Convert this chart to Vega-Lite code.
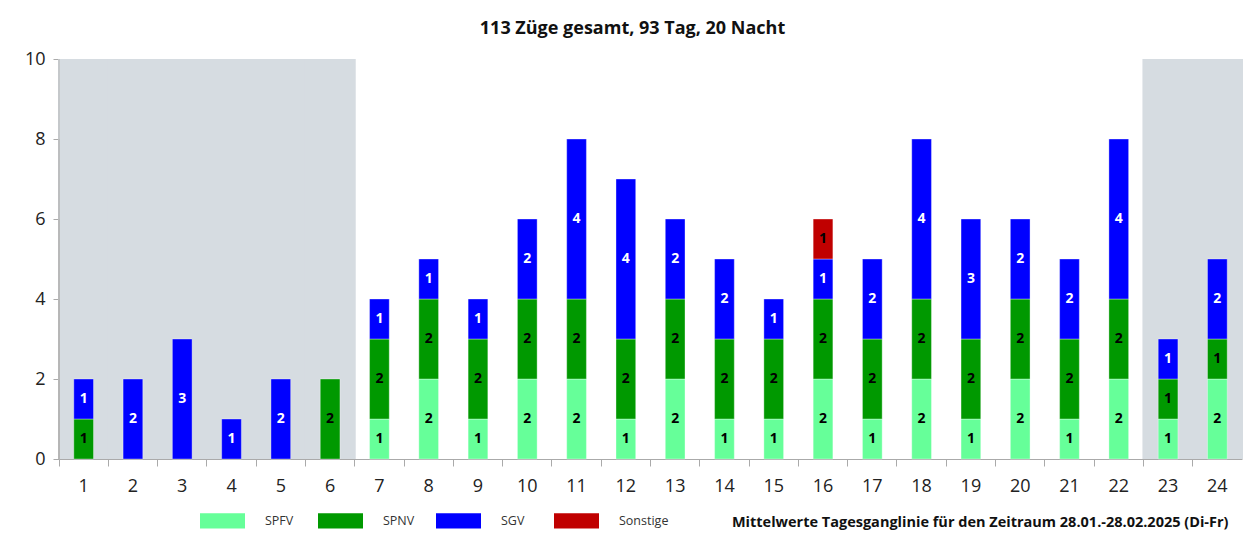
{
  "$schema": "https://vega.github.io/schema/vega-lite/v6.json",
  "autosize": "none",
  "width": 1183,
  "height": 400,
  "padding": {"left": 59, "top": 59, "right": 13, "bottom": 77},
  "background": "white",
  "title": {
    "text": "113 Züge gesamt, 93 Tag, 20 Nacht",
    "fontSize": 18,
    "fontWeight": "bold",
    "font": "Open Sans",
    "color": "#111",
    "anchor": "middle",
    "dx": -18,
    "offset": 12
  },
  "datasets": {
    "zuege": [
      {"h": 1, "cat": "SPNV", "ord": 2, "n": 1},
      {"h": 1, "cat": "SGV", "ord": 3, "n": 1},
      {"h": 2, "cat": "SGV", "ord": 3, "n": 2},
      {"h": 3, "cat": "SGV", "ord": 3, "n": 3},
      {"h": 4, "cat": "SGV", "ord": 3, "n": 1},
      {"h": 5, "cat": "SGV", "ord": 3, "n": 2},
      {"h": 6, "cat": "SPNV", "ord": 2, "n": 2},
      {"h": 7, "cat": "SPFV", "ord": 1, "n": 1},
      {"h": 7, "cat": "SPNV", "ord": 2, "n": 2},
      {"h": 7, "cat": "SGV", "ord": 3, "n": 1},
      {"h": 8, "cat": "SPFV", "ord": 1, "n": 2},
      {"h": 8, "cat": "SPNV", "ord": 2, "n": 2},
      {"h": 8, "cat": "SGV", "ord": 3, "n": 1},
      {"h": 9, "cat": "SPFV", "ord": 1, "n": 1},
      {"h": 9, "cat": "SPNV", "ord": 2, "n": 2},
      {"h": 9, "cat": "SGV", "ord": 3, "n": 1},
      {"h": 10, "cat": "SPFV", "ord": 1, "n": 2},
      {"h": 10, "cat": "SPNV", "ord": 2, "n": 2},
      {"h": 10, "cat": "SGV", "ord": 3, "n": 2},
      {"h": 11, "cat": "SPFV", "ord": 1, "n": 2},
      {"h": 11, "cat": "SPNV", "ord": 2, "n": 2},
      {"h": 11, "cat": "SGV", "ord": 3, "n": 4},
      {"h": 12, "cat": "SPFV", "ord": 1, "n": 1},
      {"h": 12, "cat": "SPNV", "ord": 2, "n": 2},
      {"h": 12, "cat": "SGV", "ord": 3, "n": 4},
      {"h": 13, "cat": "SPFV", "ord": 1, "n": 2},
      {"h": 13, "cat": "SPNV", "ord": 2, "n": 2},
      {"h": 13, "cat": "SGV", "ord": 3, "n": 2},
      {"h": 14, "cat": "SPFV", "ord": 1, "n": 1},
      {"h": 14, "cat": "SPNV", "ord": 2, "n": 2},
      {"h": 14, "cat": "SGV", "ord": 3, "n": 2},
      {"h": 15, "cat": "SPFV", "ord": 1, "n": 1},
      {"h": 15, "cat": "SPNV", "ord": 2, "n": 2},
      {"h": 15, "cat": "SGV", "ord": 3, "n": 1},
      {"h": 16, "cat": "SPFV", "ord": 1, "n": 2},
      {"h": 16, "cat": "SPNV", "ord": 2, "n": 2},
      {"h": 16, "cat": "SGV", "ord": 3, "n": 1},
      {"h": 16, "cat": "Sonstige", "ord": 4, "n": 1},
      {"h": 17, "cat": "SPFV", "ord": 1, "n": 1},
      {"h": 17, "cat": "SPNV", "ord": 2, "n": 2},
      {"h": 17, "cat": "SGV", "ord": 3, "n": 2},
      {"h": 18, "cat": "SPFV", "ord": 1, "n": 2},
      {"h": 18, "cat": "SPNV", "ord": 2, "n": 2},
      {"h": 18, "cat": "SGV", "ord": 3, "n": 4},
      {"h": 19, "cat": "SPFV", "ord": 1, "n": 1},
      {"h": 19, "cat": "SPNV", "ord": 2, "n": 2},
      {"h": 19, "cat": "SGV", "ord": 3, "n": 3},
      {"h": 20, "cat": "SPFV", "ord": 1, "n": 2},
      {"h": 20, "cat": "SPNV", "ord": 2, "n": 2},
      {"h": 20, "cat": "SGV", "ord": 3, "n": 2},
      {"h": 21, "cat": "SPFV", "ord": 1, "n": 1},
      {"h": 21, "cat": "SPNV", "ord": 2, "n": 2},
      {"h": 21, "cat": "SGV", "ord": 3, "n": 2},
      {"h": 22, "cat": "SPFV", "ord": 1, "n": 2},
      {"h": 22, "cat": "SPNV", "ord": 2, "n": 2},
      {"h": 22, "cat": "SGV", "ord": 3, "n": 4},
      {"h": 23, "cat": "SPFV", "ord": 1, "n": 1},
      {"h": 23, "cat": "SPNV", "ord": 2, "n": 1},
      {"h": 23, "cat": "SGV", "ord": 3, "n": 1},
      {"h": 24, "cat": "SPFV", "ord": 1, "n": 2},
      {"h": 24, "cat": "SPNV", "ord": 2, "n": 1},
      {"h": 24, "cat": "SGV", "ord": 3, "n": 2}
    ],
    "nacht": [
      {"h": 1}, {"h": 2}, {"h": 3}, {"h": 4}, {"h": 5}, {"h": 6}, {"h": 23}, {"h": 24}
    ],
    "raster": [
      {"v": 2}, {"v": 4}, {"v": 6}, {"v": 8}, {"v": 10}
    ]
  },
  "config": {
    "font": "Open Sans",
    "view": {"stroke": null}
  },
  "encoding": {
    "x": {
      "field": "h",
      "type": "ordinal",
      "scale": {"domain": [1,2,3,4,5,6,7,8,9,10,11,12,13,14,15,16,17,18,19,20,21,22,23,24], "paddingInner": 0, "paddingOuter": 0},
      "axis": {
        "title": "Mittelwerte Tagesganglinie  für den Zeitraum 28.01.-28.02.2025 (Di-Fr)",
        "titleFontSize": 14.5,
        "titleFontWeight": "bold",
        "titleColor": "#111",
        "titleX": 1169,
        "titleY": 67,
        "titleAlign": "right",
        "titleAnchor": null,
        "titleBaseline": "alphabetic",
        "labelAngle": 0,
        "labelFontSize": 18,
        "labelColor": "#222",
        "labelPadding": 11,
        "bandPosition": 0,
        "tickSize": 7,
        "tickColor": "#aaaaaa",
        "domainColor": "#aaaaaa",
        "grid": false
      }
    }
  },
  "layer": [
    {
      "data": {"name": "nacht"},
      "mark": {"type": "bar", "color": "#d6dce1", "width": {"band": 1.04}},
      "encoding": {
        "y": {"datum": 0, "type": "quantitative"},
        "y2": {"datum": 10}
      }
    },
    {
      "data": {"name": "raster"},
      "mark": {"type": "rule", "color": "#b4b4b4", "strokeWidth": 1},
      "encoding": {
        "y": {"field": "v", "type": "quantitative"}
      }
    },
    {
      "data": {"name": "zuege"},
      "transform": [
        {"stack": "n", "groupby": ["h"], "sort": [{"field": "ord", "order": "ascending"}], "as": ["y0", "y1"]},
        {"calculate": "(datum.y0 + datum.y1) / 2", "as": "ym"}
      ],
      "layer": [
        {
          "mark": {"type": "bar", "width": {"band": 0.4}, "stroke": "white", "strokeOpacity": 0.35, "strokeWidth": 1},
          "encoding": {
            "y": {
              "field": "y0",
              "type": "quantitative",
              "scale": {"domain": [0, 10]},
              "axis": {
                "title": null,
                "values": [0, 2, 4, 6, 8, 10],
                "labelFontSize": 18,
                "labelColor": "#222",
                "labelPadding": 8,
                "tickSize": 6,
                "tickColor": "#aaaaaa",
                "domainColor": "#aaaaaa",
                "gridColor": "#b4b4b4",
                "gridWidth": 1
              }
            },
            "y2": {"field": "y1"},
            "color": {
              "field": "cat",
              "type": "nominal",
              "scale": {
                "domain": ["SPFV", "SPNV", "SGV", "Sonstige"],
                "range": ["#66ff99", "#009900", "#0000ff", "#c00000"]
              },
              "legend": {
                "title": null,
                "orient": "none",
                "direction": "horizontal",
                "legendX": 141,
                "legendY": 439,
                "symbolType": "M-1,-0.34H1V0.34H-1Z",
                "symbolSize": 2025,
                "symbolStrokeWidth": 0,
                "symbolOpacity": 1,
                "labelFontSize": 12.5,
                "labelColor": "#333",
                "labelOffset": 20,
                "gridAlign": "all",
                "columnPadding": 3,
                "labelLimit": 200
              }
            }
          }
        },
        {
          "mark": {"type": "text", "fontSize": 14, "fontWeight": "bold", "baseline": "middle", "align": "center"},
          "encoding": {
            "y": {"field": "ym", "type": "quantitative"},
            "text": {"field": "n", "type": "quantitative"},
            "color": {
              "condition": {"test": "datum.cat === 'SGV'", "value": "white"},
              "value": "black"
            }
          }
        }
      ]
    }
  ]
}
